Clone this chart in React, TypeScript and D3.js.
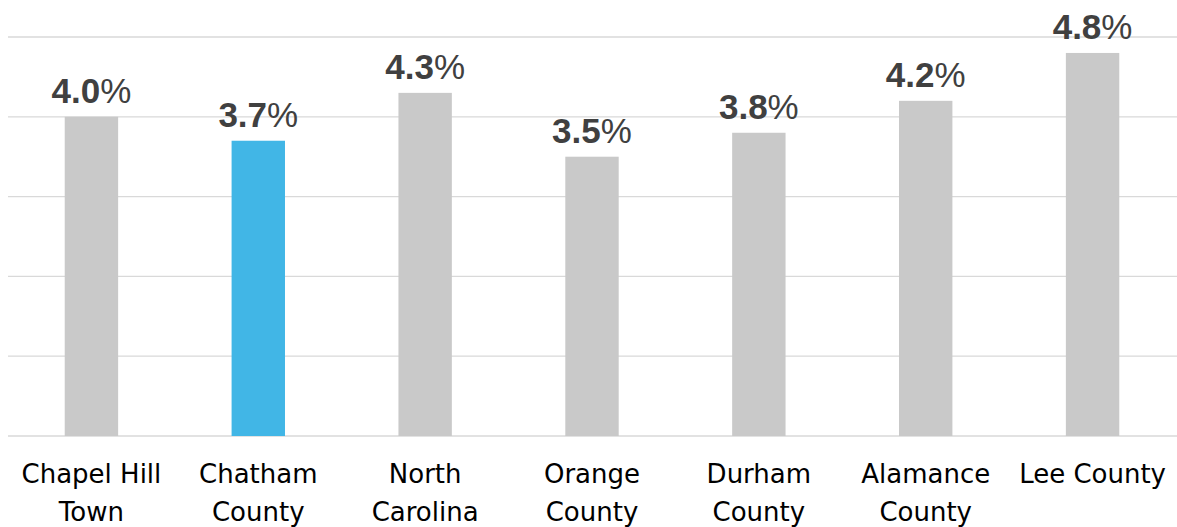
import React from "react";
import * as d3 from "d3";

const categories = ["Chapel Hill Town", "Chatham County", "North Carolina", "Orange County", "Durham County", "Alamance County", "Lee County"];
const labelLines = [["Chapel Hill", "Town"], ["Chatham", "County"], ["North", "Carolina"], ["Orange", "County"], ["Durham", "County"], ["Alamance", "County"], ["Lee County"]];
const values = [4.0, 3.7, 4.3, 3.5, 3.8, 4.2, 4.8];
const highlight = "Chatham County";
const yTicks = [0, 1, 2, 3, 4, 5];

export default function App() {
  const W = 1177, H = 527;
  const x = d3.scaleBand<string>().domain(categories).range([8, 1176]).paddingInner(0.68).paddingOuter(0.34);
  const y = d3.scaleLinear().domain([0, 5]).range([436, 37]);
  return (
    <svg width={W} height={H} style={{ position: "absolute", left: 0, top: 0, background: "#fff" }}>
      {yTicks.map((t) => (
        <line key={t} x1={8} x2={1177} y1={y(t)} y2={y(t)} stroke="#D9D9D9" strokeWidth={1.3} />
      ))}
      {categories.map((c, i) => {
        const bx = x(c)!;
        const bw = x.bandwidth();
        const cx = bx + bw / 2;
        return (
          <g key={c}>
            <rect x={bx} y={y(values[i])} width={bw} height={y(0) - y(values[i])} fill={c === highlight ? "#41B6E6" : "#C9C9C9"} />
            <text x={cx} y={y(values[i]) - 13.5} textAnchor="middle" fontFamily="Liberation Sans, Arial, sans-serif" fontSize={35} fill="#404040">
              <tspan fontWeight="bold">{values[i].toFixed(1)}</tspan>
              <tspan fontWeight="normal">%</tspan>
            </text>
            {labelLines[i].map((ln, j) => (
              <text key={j} x={cx} y={483 + j * 38} textAnchor="middle" fontFamily="DejaVu Sans, sans-serif" fontSize={26} fill="#000">
                {ln}
              </text>
            ))}
          </g>
        );
      })}
    </svg>
  );
}
